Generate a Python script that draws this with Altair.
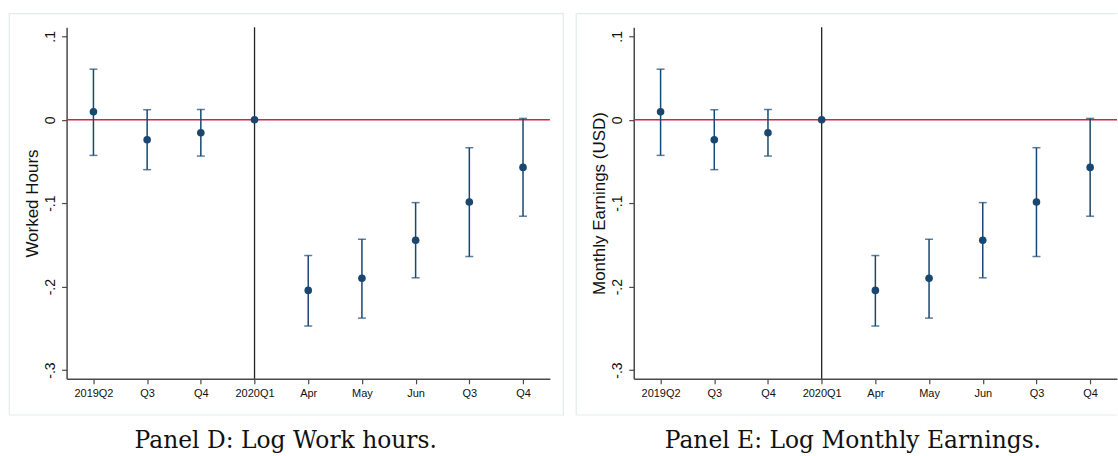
import altair as alt
import pandas as pd

# ---- data ----
x_labels = ["2019Q2", "Q3", "Q4", "2020Q1", "Apr", "May", "Jun", "Q3", "Q4"]
period_index = [0, 1, 2, 3, 4, 5, 6, 7, 8]

hours_coef = [0.0096, -0.0240, -0.0155, 0.0, -0.2045, -0.1900, -0.1444, -0.0985, -0.0571]
hours_lo = [-0.0427, -0.0598, -0.0435, 0.0, -0.2472, -0.2377, -0.1894, -0.1639, -0.1156]
hours_hi = [0.0606, 0.0120, 0.0123, 0.0, -0.1627, -0.1432, -0.0993, -0.0335, 0.0016]

earn_coef = [0.0096, -0.0240, -0.0155, 0.0, -0.2045, -0.1900, -0.1444, -0.0985, -0.0571]
earn_lo = [-0.0427, -0.0598, -0.0435, 0.0, -0.2472, -0.2377, -0.1894, -0.1639, -0.1156]
earn_hi = [0.0606, 0.0120, 0.0123, 0.0, -0.1627, -0.1432, -0.0993, -0.0335, 0.0016]

y_ticks = [-0.3, -0.2, -0.1, 0.0, 0.1]
y_domain = [-0.3104, 0.1108]
x_domain = [-0.5, 8.5]
event_index = 3

NAVY = "#1a476f"
RED = "#d8204c"
AXIS = "#4a4a4a"
FRAME = "#e3ebed"
SANS = "Liberation Sans"
SERIF = "DejaVu Serif"

W, H = 484, 352

label_expr = "[" + ",".join("'%s'" % l for l in x_labels) + "][datum.value]"
ylabel_expr = ("datum.value == 0 ? '0' : (datum.value < 0 ? '-' : '') + '.' + "
               "round(abs(datum.value) * 10)")


def frame_layer(full):
    one = pd.DataFrame({"f": [0]})
    if full:
        return [alt.Chart(one).mark_rect(
            fill="transparent", stroke=FRAME, strokeWidth=1.2
        ).encode(x=alt.value(-57.4), x2=alt.value(497.5),
                 y=alt.value(-13.7), y2=alt.value(388.3))]
    # right panel: frame runs off the page on the right
    base = alt.Chart(one).mark_rule(color=FRAME, strokeWidth=1.2)
    return [
        base.encode(x=alt.value(-57.6), x2=alt.value(484),
                    y=alt.value(-13.7)),
        base.encode(x=alt.value(-57.6), x2=alt.value(484),
                    y=alt.value(388.3)),
        base.encode(x=alt.value(-57.6), y=alt.value(-13.7),
                    y2=alt.value(388.3)),
    ]


def panel(coef, lo, hi, ytitle, caption, full_frame):
    df = pd.DataFrame({"idx": period_index, "label": x_labels,
                       "coef": coef, "lo": lo, "hi": hi})
    ci = df[df["lo"] != df["hi"]]

    xscale = alt.Scale(domain=x_domain, nice=False, zero=False)
    yscale = alt.Scale(domain=y_domain, nice=False, zero=False)
    xaxis = alt.Axis(values=period_index, labelExpr=label_expr, grid=False,
                     title=None, domainColor=AXIS, domainWidth=1.5,
                     tickColor=AXIS, tickWidth=1.2, tickSize=5,
                     labelFont=SANS, labelFontSize=11, labelColor="#111",
                     labelPadding=4, labelFlush=False, labelOverlap=False)
    yaxis = alt.Axis(values=y_ticks, labelExpr=ylabel_expr, grid=False,
                     title=ytitle, titleFont=SANS, titleFontSize=17,
                     titleFontWeight="normal", titleColor="#111",
                     titlePadding=2,
                     domainColor=AXIS, domainWidth=1.5,
                     tickColor=AXIS, tickWidth=1.2, tickSize=5,
                     labelFont=SANS, labelFontSize=14, labelColor="#111",
                     labelAngle=-90, labelAlign="center", labelBaseline="bottom",
                     labelPadding=4, labelFlush=False, labelOverlap=False)

    hline = alt.Chart(pd.DataFrame({"f": [0]})).mark_rule(
        color=RED, strokeWidth=1.5
    ).encode(y=alt.Y(datum=0, scale=yscale, axis=yaxis))

    vline = alt.Chart(pd.DataFrame({"f": [0]})).mark_rule(
        color="#222", strokeWidth=1.3
    ).encode(x=alt.X(datum=event_index, scale=xscale, axis=xaxis))

    bars = alt.Chart(ci).mark_rule(color=NAVY, strokeWidth=1.5).encode(
        x=alt.X("idx:Q", scale=xscale, axis=xaxis),
        y=alt.Y("lo:Q", scale=yscale, axis=yaxis),
        y2="hi:Q")
    cap_lo = alt.Chart(ci).mark_tick(color=NAVY, orient="horizontal",
                                     size=8, thickness=1.5).encode(
        x=alt.X("idx:Q", scale=xscale), y=alt.Y("lo:Q", scale=yscale))
    cap_hi = alt.Chart(ci).mark_tick(color=NAVY, orient="horizontal",
                                     size=8, thickness=1.5).encode(
        x=alt.X("idx:Q", scale=xscale), y=alt.Y("hi:Q", scale=yscale))
    pts = alt.Chart(df).mark_circle(color=NAVY, opacity=1, size=58).encode(
        x=alt.X("idx:Q", scale=xscale),
        y=alt.Y("coef:Q", scale=yscale))

    layers = frame_layer(full_frame) + [hline, vline, bars, cap_lo, cap_hi, pts]
    return alt.layer(*layers).properties(
        width=W, height=H,
        title=alt.TitleParams(caption, orient="bottom", anchor="middle",
                              font=SERIF, fontSize=23.4, fontWeight="normal",
                              color="#111", offset=14, baseline="top",
                              dx=-22.5))


left = panel(hours_coef, hours_lo, hours_hi, "Worked Hours",
             "Panel D: Log Work hours.", True)
right = panel(earn_coef, earn_lo, earn_hi, "Monthly Earnings (USD)",
              "Panel E: Log Monthly Earnings.", False)

chart = alt.hconcat(left, right, spacing=10).properties(
    padding={"left": 8.7, "top": 12, "right": 0, "bottom": 0},
    background="white"
).configure_view(stroke=None)

chart.save("out.html", embed_options={"renderer": "svg", "actions": False})
